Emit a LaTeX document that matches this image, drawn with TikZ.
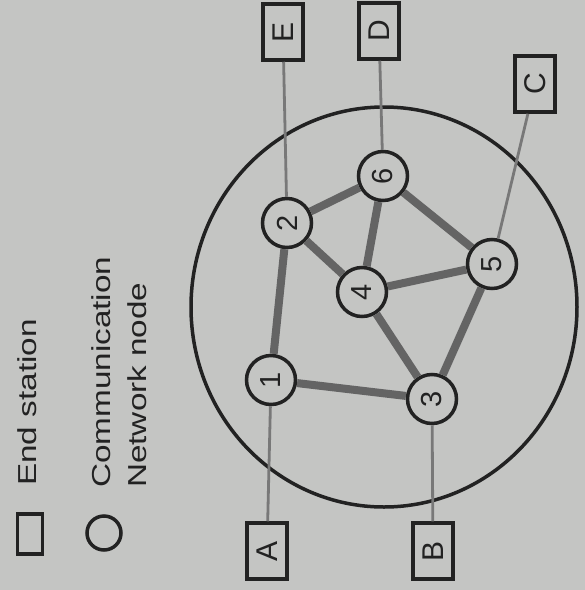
\documentclass[tikz,border=0pt]{standalone}
\usepackage{fontspec}
\setmainfont{Liberation Sans}
\usetikzlibrary{shapes.geometric}
\definecolor{bg}{RGB}{196,197,195}
\definecolor{ink}{RGB}{34,34,34}
\definecolor{linkc}{RGB}{100,100,100}
\definecolor{thinc}{RGB}{120,120,120}
\tikzset{
  netnode/.style={circle, draw=ink, line width=3.5pt, fill=bg, minimum size=49pt, inner sep=0pt,
    font=\fontsize{29}{29}\selectfont, text=ink, rotate=90},
  endst/.style={rectangle, draw=ink, line width=3.5pt, fill=bg, minimum width=56pt, minimum height=40pt,
    inner sep=0pt, font=\fontsize{30}{30}\selectfont, text=ink, rotate=90},
  link/.style={draw=linkc, line width=8pt},
  tap/.style={draw=thinc, line width=2.8pt},
  legtext/.style={font=\fontsize{26}{26}\selectfont, text=ink, rotate=90, anchor=base west, inner sep=0pt}
}
\begin{document}
\begin{tikzpicture}[x=1pt,y=-1pt]
\fill[bg] (0,0) rectangle (585,590);
\useasboundingbox (0,0) rectangle (585,590);
% big circle
\draw[ink, line width=3.5pt] (384,307) ellipse [x radius=193, y radius=200];
% network nodes
\node[netnode] (n1) at (271,380) {1};
\node[netnode] (n2) at (287,223) {2};
\node[netnode] (n3) at (432,399) {3};
\node[netnode] (n4) at (362,292) {4};
\node[netnode] (n5) at (492,264) {5};
\node[netnode] (n6) at (383,176) {6};
% end stations
\node[endst] (E) at (283,32) {E};
\node[endst] (D) at (379,31) {D};
\node[endst] (C) at (535,84) {C};
\node[endst] (A) at (267,551) {A};
\node[endst] (B) at (433,551) {B};
% links
\draw[link] (n1) -- (n2);
\draw[link] (n1) -- (n3);
\draw[link] (n2) -- (n4);
\draw[link] (n2) -- (n6);
\draw[link] (n6) -- (n4);
\draw[link] (n6) -- (n5);
\draw[link] (n4) -- (n5);
\draw[link] (n4) -- (n3);
\draw[link] (n3) -- (n5);
% taps
\draw[tap] (E) -- (n2);
\draw[tap] (D) -- (n6);
\draw[tap] (C) -- (n5);
\draw[tap] (A) -- (n1);
\draw[tap] (B) -- (n3);
% legend
\node[draw=ink, line width=3.5pt, minimum width=40pt, minimum height=25pt, inner sep=0pt, rotate=90] (legsq) at (30,534) {};
\node[circle, draw=ink, line width=3.5pt, minimum size=34pt, inner sep=0pt] (legci) at (104,533) {};
\node[legtext] (t1) at (37,486) {\scalebox{1.28}[1]{End station}};
\node[legtext] (t2) at (110,488) {\scalebox{1.28}[1]{Communication}};
\node[legtext] (t3) at (146,488) {\scalebox{1.28}[1]{Network node}};
\end{tikzpicture}
\end{document}
